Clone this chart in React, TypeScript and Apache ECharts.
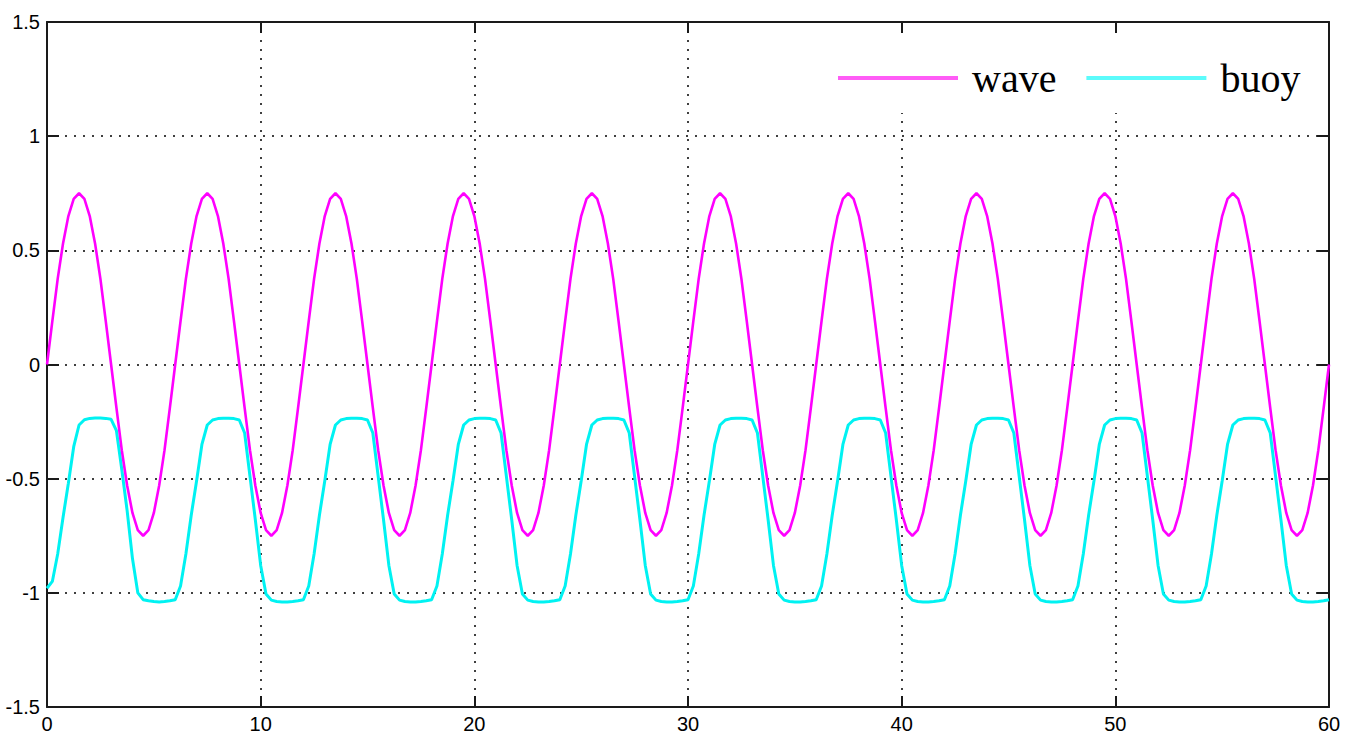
import React, { useEffect, useRef } from "react";
import * as echarts from "echarts";

// sample spacing of the recorded signals (seconds)
const sampleStep = 0.25;

const xTicks = [0, 10, 20, 30, 40, 50, 60];
const yTicks = [-1.5, -1, -0.5, 0, 0.5, 1, 1.5];

const seriesNames = ["wave", "buoy"];

// wave elevation, one row per 6 s
const wave = [
  0, 0.19, 0.375, 0.53, 0.65, 0.725, 0.75, 0.725, 0.65, 0.53, 0.375, 0.19, 0, -0.19, -0.375, -0.53, -0.65, -0.725, -0.75, -0.725, -0.65, -0.53, -0.375, -0.19,
  0, 0.19, 0.375, 0.53, 0.65, 0.725, 0.75, 0.725, 0.65, 0.53, 0.375, 0.19, 0, -0.19, -0.375, -0.53, -0.65, -0.725, -0.75, -0.725, -0.65, -0.53, -0.375, -0.19,
  0, 0.19, 0.375, 0.53, 0.65, 0.725, 0.75, 0.725, 0.65, 0.53, 0.375, 0.19, 0, -0.19, -0.375, -0.53, -0.65, -0.725, -0.75, -0.725, -0.65, -0.53, -0.375, -0.19,
  0, 0.19, 0.375, 0.53, 0.65, 0.725, 0.75, 0.725, 0.65, 0.53, 0.375, 0.19, 0, -0.19, -0.375, -0.53, -0.65, -0.725, -0.75, -0.725, -0.65, -0.53, -0.375, -0.19,
  0, 0.19, 0.375, 0.53, 0.65, 0.725, 0.75, 0.725, 0.65, 0.53, 0.375, 0.19, 0, -0.19, -0.375, -0.53, -0.65, -0.725, -0.75, -0.725, -0.65, -0.53, -0.375, -0.19,
  0, 0.19, 0.375, 0.53, 0.65, 0.725, 0.75, 0.725, 0.65, 0.53, 0.375, 0.19, 0, -0.19, -0.375, -0.53, -0.65, -0.725, -0.75, -0.725, -0.65, -0.53, -0.375, -0.19,
  0, 0.19, 0.375, 0.53, 0.65, 0.725, 0.75, 0.725, 0.65, 0.53, 0.375, 0.19, 0, -0.19, -0.375, -0.53, -0.65, -0.725, -0.75, -0.725, -0.65, -0.53, -0.375, -0.19,
  0, 0.19, 0.375, 0.53, 0.65, 0.725, 0.75, 0.725, 0.65, 0.53, 0.375, 0.19, 0, -0.19, -0.375, -0.53, -0.65, -0.725, -0.75, -0.725, -0.65, -0.53, -0.375, -0.19,
  0, 0.19, 0.375, 0.53, 0.65, 0.725, 0.75, 0.725, 0.65, 0.53, 0.375, 0.19, 0, -0.19, -0.375, -0.53, -0.65, -0.725, -0.75, -0.725, -0.65, -0.53, -0.375, -0.19,
  0, 0.19, 0.375, 0.53, 0.65, 0.725, 0.75, 0.725, 0.65, 0.53, 0.375, 0.19, 0, -0.19, -0.375, -0.53, -0.65, -0.725, -0.75, -0.725, -0.65, -0.53, -0.375, -0.19,
  0,
];

// buoy heave, one row per 6 s
const buoy = [
  -0.98, -0.95, -0.83, -0.67, -0.52, -0.36, -0.265, -0.242, -0.236, -0.234, -0.234, -0.236, -0.24, -0.29, -0.46, -0.64, -0.85, -1.0, -1.03, -1.035, -1.038, -1.04, -1.038, -1.035,
  -1.03, -0.97, -0.83, -0.66, -0.51, -0.35, -0.265, -0.243, -0.237, -0.235, -0.235, -0.237, -0.243, -0.3, -0.49, -0.68, -0.88, -1.005, -1.032, -1.038, -1.04, -1.04, -1.038, -1.035,
  -1.03, -0.97, -0.83, -0.66, -0.51, -0.35, -0.265, -0.243, -0.237, -0.235, -0.235, -0.237, -0.243, -0.3, -0.49, -0.68, -0.88, -1.005, -1.032, -1.038, -1.04, -1.04, -1.038, -1.035,
  -1.03, -0.97, -0.83, -0.66, -0.51, -0.35, -0.265, -0.243, -0.237, -0.235, -0.235, -0.237, -0.243, -0.3, -0.49, -0.68, -0.88, -1.005, -1.032, -1.038, -1.04, -1.04, -1.038, -1.035,
  -1.03, -0.97, -0.83, -0.66, -0.51, -0.35, -0.265, -0.243, -0.237, -0.235, -0.235, -0.237, -0.243, -0.3, -0.49, -0.68, -0.88, -1.005, -1.032, -1.038, -1.04, -1.04, -1.038, -1.035,
  -1.03, -0.97, -0.83, -0.66, -0.51, -0.35, -0.265, -0.243, -0.237, -0.235, -0.235, -0.237, -0.243, -0.3, -0.49, -0.68, -0.88, -1.005, -1.032, -1.038, -1.04, -1.04, -1.038, -1.035,
  -1.03, -0.97, -0.83, -0.66, -0.51, -0.35, -0.265, -0.243, -0.237, -0.235, -0.235, -0.237, -0.243, -0.3, -0.49, -0.68, -0.88, -1.005, -1.032, -1.038, -1.04, -1.04, -1.038, -1.035,
  -1.03, -0.97, -0.83, -0.66, -0.51, -0.35, -0.265, -0.243, -0.237, -0.235, -0.235, -0.237, -0.243, -0.3, -0.49, -0.68, -0.88, -1.005, -1.032, -1.038, -1.04, -1.04, -1.038, -1.035,
  -1.03, -0.97, -0.83, -0.66, -0.51, -0.35, -0.265, -0.243, -0.237, -0.235, -0.235, -0.237, -0.243, -0.3, -0.49, -0.68, -0.88, -1.005, -1.032, -1.038, -1.04, -1.04, -1.038, -1.035,
  -1.03, -0.97, -0.83, -0.66, -0.51, -0.35, -0.265, -0.243, -0.237, -0.235, -0.235, -0.237, -0.243, -0.3, -0.49, -0.68, -0.88, -1.005, -1.032, -1.038, -1.04, -1.04, -1.038, -1.035,
  -1.03,
];

const AXIS_COLOR = "#1a1a1a";

export default function App() {
  const ref = useRef<HTMLDivElement>(null);

  useEffect(() => {
    if (!ref.current) return;
    const chart = echarts.init(ref.current, undefined, { renderer: "svg" });

    const toPairs = (vals: number[]) => vals.map((v, i) => [i * sampleStep, v]);

    const xMin = xTicks[0];
    const xMax = xTicks[xTicks.length - 1];
    const xInt = xTicks[1] - xTicks[0];
    const yMin = yTicks[0];
    const yMax = yTicks[yTicks.length - 1];
    const yInt = yTicks[1] - yTicks[0];

    const dotted = { color: "#000", width: 1.5, type: [2, 7] as number[] };
    const label = {
      color: "#000",
      fontFamily: "Liberation Sans, Arial, sans-serif",
      fontSize: 20,
    };

    chart.setOption({
      animation: false,
      backgroundColor: "#fff",
      grid: { left: 47, right: 25, top: 22, bottom: 29, containLabel: false },
      legend: {
        show: true,
        left: 826,
        top: 40,
        padding: [18, 22, 15, 12],
        backgroundColor: "#fff",
        icon: "rect",
        itemWidth: 120,
        itemHeight: 4,
        itemGap: 30,
        selectedMode: false,
        textStyle: {
          fontFamily: "Liberation Serif, Times New Roman, serif",
          fontSize: 40,
          lineHeight: 40,
          color: "#000",
          padding: [0, 0, 0, 9],
        },
        data: [
          { name: seriesNames[0], itemStyle: { color: "#ff5cf6" } },
          { name: seriesNames[1], itemStyle: { color: "#5cfbfb" } },
        ],
      },
      xAxis: [
        {
          type: "value",
          min: xMin,
          max: xMax,
          interval: xInt,
          position: "bottom",
          axisLine: { show: true, onZero: false, lineStyle: { color: AXIS_COLOR, width: 2 } },
          axisTick: { show: true, inside: true, length: 11, lineStyle: { color: AXIS_COLOR, width: 2 } },
          axisLabel: { ...label, margin: 7 },
          splitLine: { show: true, lineStyle: dotted },
        },
        {
          type: "value",
          min: xMin,
          max: xMax,
          interval: xInt,
          position: "top",
          axisLine: { show: true, onZero: false, lineStyle: { color: AXIS_COLOR, width: 2 } },
          axisTick: { show: true, inside: true, length: 11, lineStyle: { color: AXIS_COLOR, width: 2 } },
          axisLabel: { show: false },
          splitLine: { show: false },
        },
      ],
      yAxis: [
        {
          type: "value",
          min: yMin,
          max: yMax,
          interval: yInt,
          position: "left",
          axisLine: { show: true, onZero: false, lineStyle: { color: AXIS_COLOR, width: 2 } },
          axisTick: { show: true, inside: true, length: 12, lineStyle: { color: AXIS_COLOR, width: 2 } },
          axisLabel: { ...label, margin: 7 },
          splitLine: { show: true, lineStyle: dotted },
        },
        {
          type: "value",
          min: yMin,
          max: yMax,
          interval: yInt,
          position: "right",
          axisLine: { show: true, onZero: false, lineStyle: { color: AXIS_COLOR, width: 2 } },
          axisTick: { show: true, inside: true, length: 12, lineStyle: { color: AXIS_COLOR, width: 2 } },
          axisLabel: { show: false },
          splitLine: { show: false },
        },
      ],
      series: [
        {
          name: seriesNames[0],
          type: "line",
          data: toPairs(wave),
          showSymbol: false,
          symbol: "none",
          lineStyle: { color: "#ff00ff", width: 2.6 },
          itemStyle: { color: "#ff00ff" },
          z: 3,
        },
        {
          name: seriesNames[1],
          type: "line",
          data: toPairs(buoy),
          showSymbol: false,
          symbol: "none",
          lineStyle: { color: "#00f2f2", width: 3 },
          itemStyle: { color: "#00f2f2" },
          z: 2,
        },
      ],
    });

    return () => chart.dispose();
  }, []);

  return (
    <div
      ref={ref}
      style={{ position: "absolute", left: 0, top: 0, width: 1354, height: 736 }}
    />
  );
}
